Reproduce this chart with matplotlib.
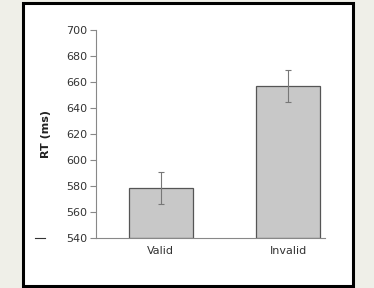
import matplotlib.pyplot as plt
from matplotlib.patches import Rectangle
from matplotlib.lines import Line2D

conditions = ["Valid", "Invalid"]
rt_means = [578.5, 657]
rt_err_low = [12, 12]
rt_err_high = [12.5, 12]
yticks = [540, 560, 580, 600, 620, 640, 660, 680, 700]

plt.rcParams['font.family'] = ['DejaVu Sans']

fig = plt.figure(figsize=(3.74, 2.88), dpi=100)
fig.patch.set_facecolor("#efefe8")

# white panel with black border (behind the axes)
panel = Rectangle((23/374, 1-286/288), 330/374, 283/288, transform=fig.transFigure,
                  facecolor="white", edgecolor="black", linewidth=2.2, zorder=-10)
fig.patches.append(panel)
# stray dash at left
fig.lines.append(Line2D([35/374, 45/374], [1-238/288, 1-238/288], transform=fig.transFigure,
                        color="#333333", linewidth=0.8))

ax = fig.add_axes([96/374, 1-238/288, 229/374, 208/288])
ax.set_facecolor("none")
x = [0, 1]
ax.bar(x, [m - 540 for m in rt_means], bottom=540, width=0.5, color="#c8c8c8",
       edgecolor="#555555", linewidth=0.9, zorder=2)
ax.errorbar(x, rt_means, yerr=[rt_err_low, rt_err_high], fmt="none", ecolor="#777777",
            elinewidth=0.8, capsize=2, capthick=0.8, zorder=3)

ax.set_ylim(540, 700)
ax.set_xlim(-0.51, 1.29)
ax.set_yticks(yticks)
ax.set_xticks(x)
ax.set_xticklabels(conditions)
ax.tick_params(axis="y", length=4, width=0.8, color="#888888", labelsize=8,
               labelcolor="#333333", pad=2)
ax.tick_params(axis="x", length=0, labelsize=8, labelcolor="#333333", pad=6)
for s in ["top", "right"]:
    ax.spines[s].set_visible(False)
for s in ["left", "bottom"]:
    ax.spines[s].set_color("#888888")
    ax.spines[s].set_linewidth(0.8)
ax.set_ylabel("RT (ms)", fontsize=8, fontweight="bold", color="#222222", labelpad=11)

fig.savefig("out.png", dpi=100, facecolor=fig.get_facecolor())
